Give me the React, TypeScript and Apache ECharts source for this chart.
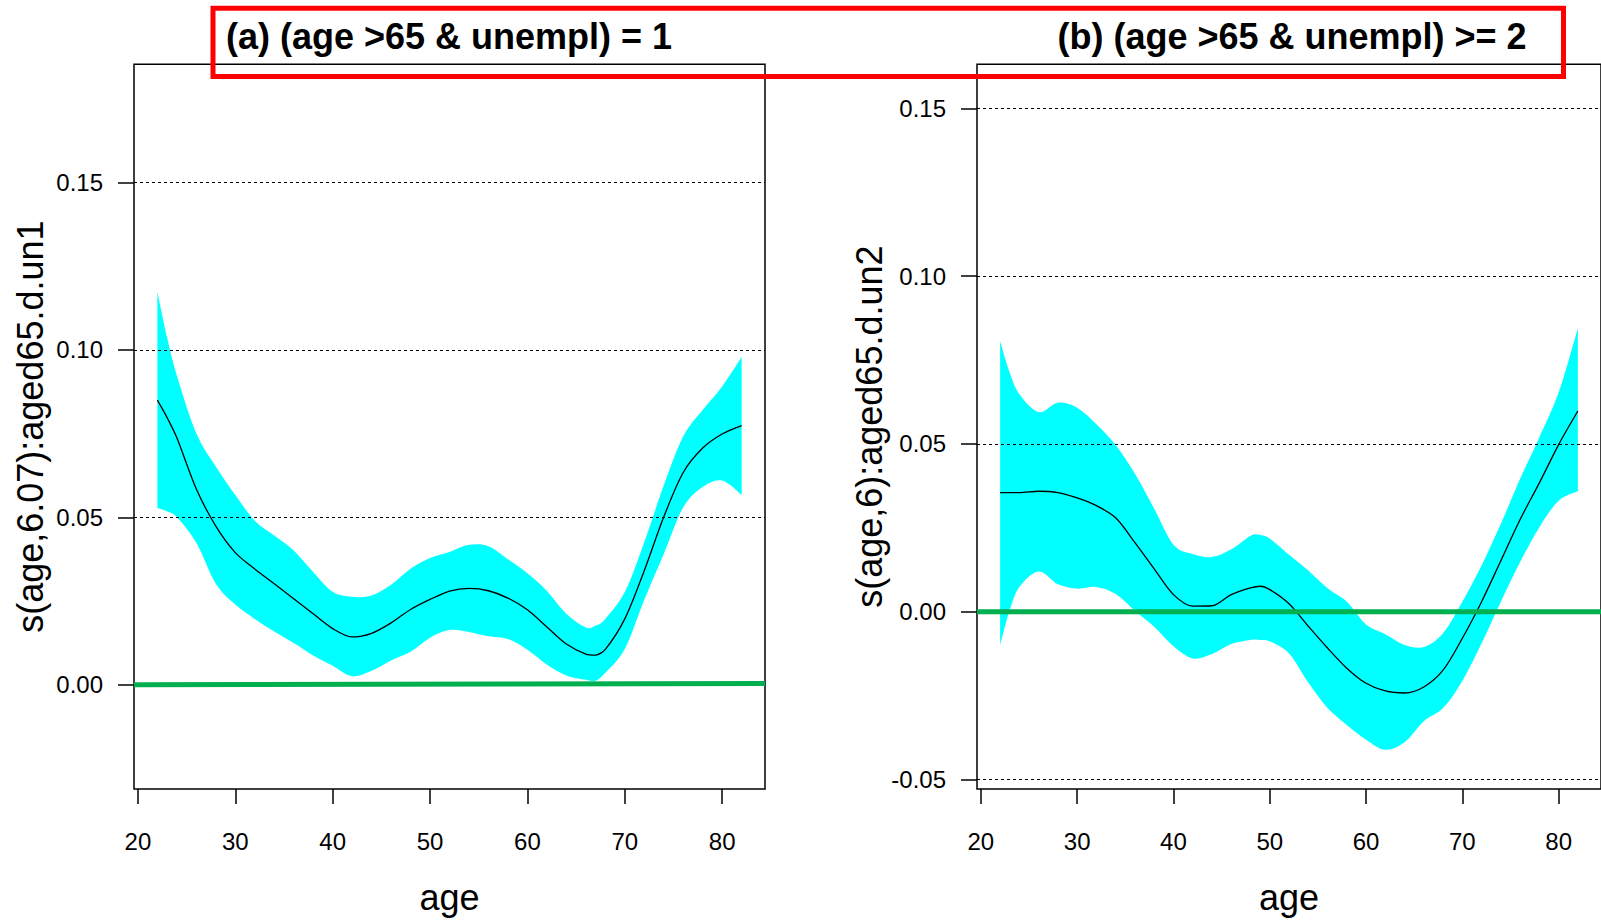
import React, { useEffect, useRef } from "react";
import * as echarts from "echarts";

const FONT = "'Liberation Sans', Arial, Helvetica, sans-serif";

// Panel (a): (age >65 & unempl) = 1
const agesA = [22, 23, 24, 26, 28, 30, 32, 34, 36, 38, 40, 42, 44, 46, 48, 50, 52, 54, 56, 58, 60, 62, 64, 66, 67, 68, 70, 72, 74, 76, 78, 80, 82];
const fitA = [0.085, 0.0798, 0.0738, 0.0585, 0.0474, 0.0395, 0.0346, 0.0302, 0.0257, 0.0212, 0.0168, 0.0143, 0.0154, 0.0185, 0.0225, 0.0255, 0.028, 0.0288, 0.0281, 0.0259, 0.0224, 0.0173, 0.0122, 0.0092, 0.0089, 0.0106, 0.0197, 0.0341, 0.0501, 0.0634, 0.0707, 0.0749, 0.0774];
const upperA = [0.1173, 0.1037, 0.0924, 0.0751, 0.0652, 0.0567, 0.049, 0.0446, 0.0401, 0.0337, 0.0278, 0.0263, 0.0267, 0.0299, 0.0347, 0.0379, 0.0397, 0.0418, 0.0414, 0.0375, 0.0333, 0.028, 0.0212, 0.0171, 0.0177, 0.0197, 0.0277, 0.0426, 0.0595, 0.0742, 0.0821, 0.0891, 0.0979];
const lowerA = [0.0528, 0.0518, 0.0501, 0.0424, 0.0302, 0.024, 0.0197, 0.0159, 0.0125, 0.0088, 0.0057, 0.0026, 0.0042, 0.0073, 0.0099, 0.0141, 0.0164, 0.0158, 0.0145, 0.0137, 0.0105, 0.0061, 0.0028, 0.0015, 0.0012, 0.0036, 0.0107, 0.0254, 0.0391, 0.053, 0.0591, 0.061, 0.0567];

// Panel (b): (age >65 & unempl) >= 2
const agesB = [22, 23, 24, 26, 28, 30, 32, 34, 36, 38, 40, 42, 44, 46, 48, 49, 50, 52, 54, 56, 58, 60, 62, 64, 66, 68, 70, 72, 74, 76, 78, 80, 82];
const fitB = [0.0355, 0.0355, 0.0355, 0.0359, 0.0355, 0.0339, 0.0316, 0.028, 0.0206, 0.0128, 0.0051, 0.0017, 0.0018, 0.0051, 0.0071, 0.0076, 0.0066, 0.0024, -0.0043, -0.0108, -0.0168, -0.0213, -0.0236, -0.0242, -0.0224, -0.0174, -0.0079, 0.003, 0.0152, 0.0275, 0.0384, 0.0498, 0.0598];
const upperB = [0.0806, 0.0712, 0.0648, 0.0595, 0.0623, 0.0608, 0.0559, 0.0497, 0.0411, 0.0307, 0.02, 0.0172, 0.0163, 0.0186, 0.0226, 0.0229, 0.0218, 0.017, 0.0123, 0.007, 0.003, -0.0038, -0.0067, -0.0099, -0.0105, -0.0064, 0.003, 0.0138, 0.0262, 0.0396, 0.052, 0.0653, 0.0845];
const lowerB = [-0.0099, 0.0005, 0.0074, 0.012, 0.0082, 0.0069, 0.0074, 0.0053, 0.0003, -0.0045, -0.0103, -0.0139, -0.0126, -0.0096, -0.0084, -0.0084, -0.0088, -0.0124, -0.0211, -0.0287, -0.0337, -0.0381, -0.0411, -0.0389, -0.0326, -0.0287, -0.0206, -0.0094, 0.003, 0.0148, 0.0252, 0.0331, 0.0359];

// Reference (green) lines
const greenA = [[19.6, 0], [84.4, 0.0004]];
const greenB = [[19.6, 0], [84.4, 0]];

// Axes
const xRange = [19.6, 84.4];
const xTicks = [20, 30, 40, 50, 60, 70, 80];
const yRangeA = [-0.0311, 0.1853];
const yRangeB = [-0.0528, 0.1631];
const yTicksA = [0, 0.05, 0.1, 0.15];
const yTicksB = [-0.05, 0, 0.05, 0.1, 0.15];
const gridLinesA = [0.05, 0.1, 0.15];
const gridLinesB = [-0.05, 0.05, 0.1, 0.15];

const titles = ["(a) (age >65 & unempl) = 1", "(b) (age >65 & unempl) >= 2"];
const yNames = ["s(age,6.07):aged65.d.un1", "s(age,6):aged65.d.un2"];
const xName = "age";

// Smooth closed band shape: upper curve left->right, straight edge, lower curve right->left.
function curveThrough(ctx: any, pts: number[][]) {
  const n = pts.length;
  for (let i = 0; i < n - 1; i++) {
    const p0 = pts[Math.max(0, i - 1)];
    const p1 = pts[i];
    const p2 = pts[i + 1];
    const p3 = pts[Math.min(n - 1, i + 2)];
    const k = 1 / 6;
    const c1x = p1[0] + (p2[0] - p0[0]) * k;
    const c1y = p1[1] + (p2[1] - p0[1]) * k;
    const c2x = p2[0] - (p3[0] - p1[0]) * k;
    const c2y = p2[1] - (p3[1] - p1[1]) * k;
    ctx.bezierCurveTo(c1x, c1y, c2x, c2y, p2[0], p2[1]);
  }
}

let bandRegistered = false;
function registerBand() {
  if (bandRegistered) return;
  bandRegistered = true;
  const Band = (echarts.graphic as any).extendShape({
    shape: { upper: [] as number[][], lower: [] as number[][] },
    buildPath(ctx: any, shape: any) {
      const u: number[][] = shape.upper;
      const l: number[][] = shape.lower.slice().reverse();
      if (!u.length || !l.length) return;
      ctx.moveTo(u[0][0], u[0][1]);
      curveThrough(ctx, u);
      ctx.lineTo(l[0][0], l[0][1]);
      curveThrough(ctx, l);
      ctx.closePath();
    },
  });
  (echarts.graphic as any).registerShape("ciBand", Band);
}

function panelSeries(idx: number, ages: number[], fit: number[], upper: number[], lower: number[], green: number[][], gridVals: number[]) {
  return [
    {
      type: "custom",
      xAxisIndex: idx,
      yAxisIndex: idx,
      silent: true,
      z: 1,
      data: [[ages[0], lower[0]]],
      encode: { x: 0, y: 1 },
      renderItem: (params: any, api: any) => {
        const up = ages.map((a, i) => api.coord([a, upper[i]]));
        const lo = ages.map((a, i) => api.coord([a, lower[i]]));
        return {
          type: "ciBand",
          shape: { upper: up, lower: lo },
          style: { fill: "#00FFFF", stroke: "none" },
        };
      },
    },
    {
      type: "line",
      xAxisIndex: idx,
      yAxisIndex: idx,
      data: ages.map((a, i) => [a, fit[i]]),
      smooth: 0.3,
      symbol: "none",
      silent: true,
      lineStyle: { color: "#000000", width: 1.3 },
      z: 3,
      markLine: {
        silent: true,
        symbol: ["none", "none"],
        label: { show: false },
        lineStyle: { type: [3, 3], color: "#000000", width: 1 },
        data: gridVals.map((v) => ({ yAxis: v })),
      },
    },
    {
      type: "line",
      xAxisIndex: idx,
      yAxisIndex: idx,
      data: green,
      symbol: "none",
      silent: true,
      lineStyle: { color: "#00B050", width: 5 },
      z: 6,
    },
  ];
}

function xAxisOf(idx: number) {
  return {
    gridIndex: idx,
    type: "value",
    min: xRange[0],
    max: xRange[1],
    axisLine: { show: false, onZero: false },
    axisTick: { show: true, inside: false, length: 15, customValues: xTicks, lineStyle: { color: "#000", width: 1.5 } },
    axisLabel: { customValues: xTicks, margin: 40, fontSize: 24, lineHeight: 24, color: "#000", fontFamily: FONT },
    splitLine: { show: false },
    name: xName,
    nameLocation: "middle",
    nameGap: 108,
    nameTextStyle: { fontSize: 36, lineHeight: 36, color: "#000", fontFamily: FONT, verticalAlign: "middle" },
  };
}

function yAxisOf(idx: number, range: number[], ticks: number[], name: string) {
  return {
    gridIndex: idx,
    type: "value",
    min: range[0],
    max: range[1],
    axisLine: { show: false, onZero: false },
    axisTick: { show: true, inside: false, length: 16, customValues: ticks, lineStyle: { color: "#000", width: 1.5 } },
    axisLabel: {
      customValues: ticks,
      margin: 31,
      fontSize: 24,
      lineHeight: 24,
      color: "#000",
      fontFamily: FONT,
      formatter: (v: number) => v.toFixed(2),
    },
    splitLine: { show: false },
    name,
    nameLocation: "middle",
    nameGap: 104,
    nameTextStyle: { fontSize: 36, lineHeight: 36, color: "#000", fontFamily: FONT, verticalAlign: "middle" },
  };
}

export default function App() {
  const ref = useRef<HTMLDivElement>(null);
  useEffect(() => {
    if (!ref.current) return;
    registerBand();
    const chart = echarts.init(ref.current, undefined, { renderer: "svg" });
    const option: any = {
      animation: false,
      backgroundColor: "#ffffff",
      textStyle: { fontFamily: FONT },
      title: [
        {
          text: titles[0],
          left: 449,
          top: 18,
          textAlign: "center",
          padding: 0,
          textStyle: { fontSize: 36, fontWeight: "bold", color: "#000", fontFamily: FONT, lineHeight: 36 },
        },
        {
          text: titles[1],
          left: 1292,
          top: 18,
          textAlign: "center",
          padding: 0,
          textStyle: { fontSize: 36, fontWeight: "bold", color: "#000", fontFamily: FONT, lineHeight: 36 },
        },
      ],
      grid: [
        { left: 134, top: 64.3, width: 631, height: 727.4, show: true, borderColor: "#000", borderWidth: 1.5, backgroundColor: "transparent" },
        { left: 977, top: 64.3, width: 630, height: 727.4, show: true, borderColor: "#000", borderWidth: 1.5, backgroundColor: "transparent" },
      ],
      xAxis: [xAxisOf(0), xAxisOf(1)],
      yAxis: [yAxisOf(0, yRangeA, yTicksA, yNames[0]), yAxisOf(1, yRangeB, yTicksB, yNames[1])],
      series: [
        ...panelSeries(0, agesA, fitA, upperA, lowerA, greenA, gridLinesA),
        ...panelSeries(1, agesB, fitB, upperB, lowerB, greenB, gridLinesB),
      ],
      graphic: [
        {
          type: "rect",
          z: 100,
          silent: true,
          shape: { x: 213, y: 8.2, width: 1350.5, height: 68.3 },
          style: { fill: "none", stroke: "#FF0000", lineWidth: 5 },
        },
      ],
    };
    chart.setOption(option);
    return () => chart.dispose();
  }, []);
  return <div ref={ref} style={{ position: "absolute", left: 0, top: 0, width: 1601, height: 920 }} />;
}
